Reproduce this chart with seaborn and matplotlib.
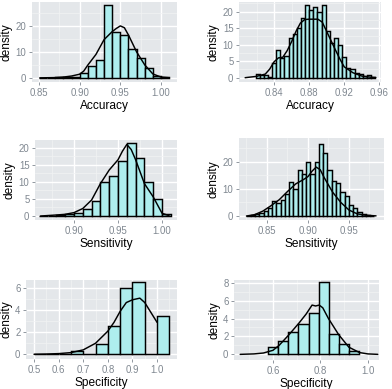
import numpy as np
import pandas as pd
import matplotlib
matplotlib.use("Agg")
import matplotlib.pyplot as plt
import seaborn as sns

# ---- data (bin start, bin width, bar heights, density curve) ----
acc_a_bin0, acc_a_binw = 0.85, 0.01
acc_a_heights = [0.05, 0.1, 0.15, 0.3, 0.5, 1.7, 4.7, 7.0, 28.0, 17.5, 16.5, 11.0, 7.8, 3.8, 0.8, 0.2]
acc_a_cx = [0.851, 0.87, 0.88, 0.89, 0.90, 0.905, 0.91, 0.92, 0.93, 0.94, 0.945, 0.95, 0.955, 0.96, 0.97, 0.98, 0.99, 1.00, 1.01]
acc_a_cy = [0.0, 0.1, 0.3, 0.7, 1.4, 2.6, 4.9, 9.0, 14.7, 17.8, 19.0, 20.0, 19.3, 16.5, 10.0, 5.0, 1.5, 0.3, 0.05]

acc_b_bin0, acc_b_binw = 0.819, 0.0047
acc_b_heights = [1.0, 0.8, 0.8, 0.3, 4.5, 8.3, 6.0, 6.5, 12.0, 13.3, 15.0, 18.0, 22.0, 20.5,
                 21.5, 20.0, 22.0, 14.0, 10.5, 12.0, 10.0, 6.3, 3.0, 2.5, 1.5, 1.0, 0.6, 0.8, 0.3]
acc_b_cx = [0.807, 0.81, 0.82, 0.83, 0.835, 0.84, 0.845, 0.85, 0.855, 0.86, 0.865, 0.87, 0.875,
            0.88, 0.885, 0.89, 0.895, 0.90, 0.905, 0.91, 0.915, 0.92, 0.93, 0.94, 0.95, 0.956]
acc_b_cy = [0.0, 0.1, 0.4, 1.1, 2.6, 4.8, 6.0, 6.2, 8.2, 10.9, 14.0, 16.5, 17.6,
            17.7, 17.7, 17.7, 16.8, 14.0, 11.2, 8.4, 5.7, 3.3, 1.5, 0.5, 0.15, 0.05]

sen_a_bin0, sen_a_binw = 0.86, 0.01
sen_a_heights = [0.05, 0.1, 0.3, 0.5, 1.0, 2.2, 4.4, 10.0, 11.7, 16.1, 21.3, 17.0, 10.0, 5.0, 0.6]
sen_a_cx = [0.862, 0.88, 0.89, 0.90, 0.91, 0.92, 0.93, 0.94, 0.95, 0.955, 0.96, 0.965, 0.97, 0.98, 0.99, 1.00, 1.008]
sen_a_cy = [0.0, 0.3, 0.5, 1.0, 2.2, 4.7, 9.5, 13.5, 16.5, 19.0, 21.0, 19.5, 16.5, 9.5, 5.6, 0.8, 0.1]

sen_b_bin0, sen_b_binw = 0.825, 0.0052
sen_b_heights = [0.1, 0.3, 0.6, 1.2, 2.0, 3.0, 5.5, 4.8, 6.0, 8.0, 12.5, 9.8, 17.0, 15.5, 20.0,
                 15.5, 20.0, 26.5, 23.0, 17.0, 13.0, 12.3, 8.8, 7.5, 4.2, 3.0, 1.6, 0.8, 0.3, 0.1]
sen_b_cx = [0.825, 0.835, 0.845, 0.85, 0.855, 0.865, 0.875, 0.885, 0.895, 0.90, 0.905,
            0.91, 0.915, 0.92, 0.925, 0.93, 0.94, 0.95, 0.96, 0.97, 0.983]
sen_b_cy = [0.0, 0.5, 1.8, 2.8, 3.8, 6.0, 9.0, 11.8, 13.5, 14.5, 16.5,
            18.0, 17.0, 14.0, 11.4, 8.8, 5.0, 2.2, 0.8, 0.3, 0.05]

spe_a_bin0, spe_a_binw = 0.5, 0.05
spe_a_heights = [0.02, 0.02, 0.05, 0.3, 0.0, 0.95, 2.55, 6.05, 6.6, 0.0, 3.5]
spe_a_cx = [0.5, 0.55, 0.6, 0.65, 0.7, 0.75, 0.8, 0.825, 0.85, 0.875, 0.9, 0.93, 0.95, 0.975, 1.0]
spe_a_cy = [0.0, 0.02, 0.06, 0.15, 0.4, 1.0, 2.1, 2.9, 3.9, 4.7, 4.95, 5.1, 4.7, 3.8, 2.9]

spe_b_bin0, spe_b_binw = 0.58, 0.0425
spe_b_heights = [0.85, 1.5, 2.55, 3.4, 4.6, 8.1, 2.3, 1.15, 0.4]
spe_b_cx = [0.462, 0.52, 0.56, 0.6, 0.626, 0.668, 0.71, 0.74, 0.765, 0.78, 0.795,
            0.81, 0.834, 0.877, 0.92, 0.965, 1.0, 1.042]
spe_b_cy = [0.0, 0.05, 0.15, 0.45, 1.0, 2.2, 3.5, 4.5, 5.5, 5.4, 5.5,
            5.2, 4.0, 2.2, 0.8, 0.2, 0.05, 0.0]

# tick labels
ticks_acc_a = ["0.85", "0.90", "0.95", "1.00"]
ticks_acc_b = ["0.84", "0.88", "0.92", "0.96"]
ticks_sen_a = ["0.90", "0.95", "1.00"]
ticks_sen_b = ["0.85", "0.90", "0.95"]
ticks_spe_a = ["0.5", "0.6", "0.7", "0.8", "0.9", "1.0"]
ticks_spe_b = ["0.6", "0.8", "1.0"]

FILL = "#AEEEEE"
TICK_COL = "#7F8790"

sns.set_theme(style="darkgrid", rc={"axes.facecolor": "#E4E7EA", "grid.color": "white"})
plt.rcParams["font.family"] = ["Liberation Sans", "DejaVu Sans"]

W, H = 392, 389
fig = plt.figure(figsize=(W / 100, H / 100), dpi=100)


def panel(px, bin0, binw, heights, cx, cy, xlim, ylim, xticks, yticks, xlabel):
    x0, y0, x1, y1 = px
    ax = fig.add_axes([x0 / W, 1 - y1 / H, (x1 - x0) / W, (y1 - y0) / H])
    edges = bin0 + binw * np.arange(len(heights) + 1)
    df = pd.DataFrame({"x": edges[:-1] + binw / 2, "w": heights})
    sns.histplot(data=df, x="x", weights="w", bins=list(edges), ax=ax, color=FILL,
                 edgecolor="black", linewidth=1.05, alpha=1)
    sns.lineplot(x=cx, y=cy, ax=ax, color="black", linewidth=1.05)
    xt = [float(t) for t in xticks]
    ax.set_xticks(xt)
    ax.set_xticklabels(xticks)
    ax.set_yticks(yticks)
    ax.set_yticklabels([str(t) for t in yticks])
    step = xt[1] - xt[0]
    ax.set_xticks([t + step / 2 for t in [xt[0] - step] + xt], minor=True)
    ys = yticks[1] - yticks[0]
    ax.set_yticks([t + ys / 2 for t in yticks], minor=True)
    ax.set_xlim(*xlim)
    ax.set_ylim(*ylim)
    ax.grid(which="major", color="white", linewidth=1.0)
    ax.grid(which="minor", color="#F1F3F4", linewidth=0.5)
    ax.set_axisbelow(True)
    ax.tick_params(which="major", bottom=True, left=True, length=2.5, width=0.6,
                   color=TICK_COL, labelcolor=TICK_COL, labelsize=6.9, pad=1.5)
    ax.tick_params(which="minor", length=0)
    for s in ax.spines.values():
        s.set_visible(False)
    ax.set_xlabel(xlabel, fontsize=8.6, color="black", labelpad=1.5)
    ax.set_ylabel("density", fontsize=8.6, color="black", labelpad=2)
    return ax


panel((32, 2, 177, 82), acc_a_bin0, acc_a_binw, acc_a_heights, acc_a_cx, acc_a_cy,
      (0.8414, 1.0197), (-1.6, 29.2), ticks_acc_a, [0, 10, 20], "Accuracy")
panel((239, 2, 381, 82), acc_b_bin0, acc_b_binw, acc_b_heights, acc_b_cx, acc_b_cy,
      (0.800, 0.962), (-1.3, 22.9), ticks_acc_b, [0, 5, 10, 15, 20], "Accuracy")
panel((35, 140, 177, 220), sen_a_bin0, sen_a_binw, sen_a_heights, sen_a_cx, sen_a_cy,
      (0.8557, 1.017), (-1.17, 22.3), ticks_sen_a, [0, 5, 10, 15, 20], "Sensitivity")
panel((239, 138, 384, 220), sen_b_bin0, sen_b_binw, sen_b_heights, sen_b_cx, sen_b_cy,
      (0.8159, 0.9927), (-1.47, 28.7), ticks_sen_b, [0, 10, 20], "Sensitivity")
panel((26, 280, 177, 359), spe_a_bin0, spe_a_binw, spe_a_heights, spe_a_cx, spe_a_cy,
      (0.4675, 1.081), (-0.43, 6.75), ticks_spe_a, [0, 2, 4, 6], "Specificity")
panel((234, 280, 379, 360), spe_b_bin0, spe_b_binw, spe_b_heights, spe_b_cx, spe_b_cy,
      (0.436, 1.047), (-0.63, 8.3), ticks_spe_b, [0, 2, 4, 6, 8], "Specificity")

fig.savefig("out.png", dpi=100)
